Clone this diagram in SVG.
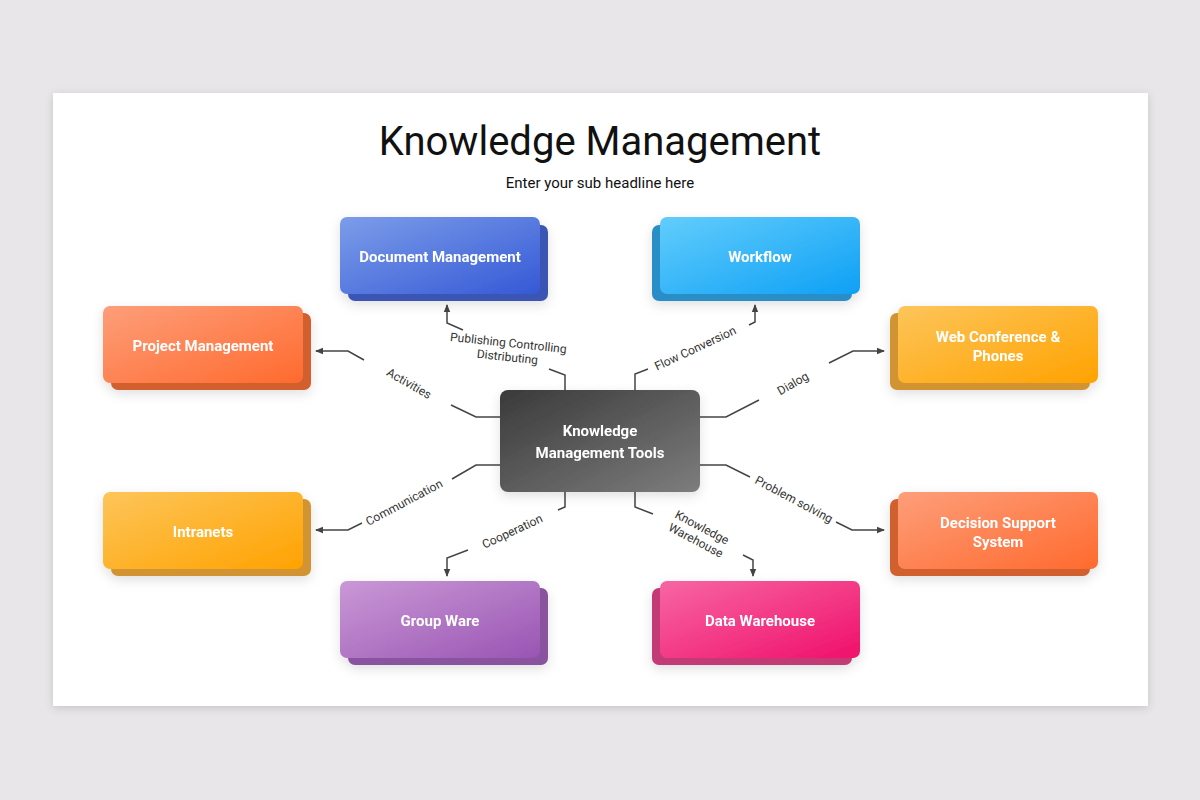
<svg xmlns="http://www.w3.org/2000/svg" width="1200" height="800" viewBox="0 0 1200 800">
<defs>
<linearGradient id="gBlue" x1="0" y1="0" x2="1" y2="1"><stop offset="0" stop-color="#7c9de9"/><stop offset="1" stop-color="#3559d6"/></linearGradient>
<linearGradient id="gCyan" x1="0" y1="0" x2="1" y2="1"><stop offset="0" stop-color="#62cdfc"/><stop offset="1" stop-color="#0ea0f5"/></linearGradient>
<linearGradient id="gOrange" x1="0" y1="0" x2="1" y2="1"><stop offset="0" stop-color="#fd9e7a"/><stop offset="1" stop-color="#ff6a2e"/></linearGradient>
<linearGradient id="gYellow" x1="0" y1="0" x2="1" y2="1"><stop offset="0" stop-color="#fdc55a"/><stop offset="1" stop-color="#ffa200"/></linearGradient>
<linearGradient id="gPurple" x1="0" y1="0" x2="1" y2="1"><stop offset="0" stop-color="#ca98d6"/><stop offset="1" stop-color="#9955b3"/></linearGradient>
<linearGradient id="gPink" x1="0" y1="0" x2="1" y2="1"><stop offset="0" stop-color="#f766a4"/><stop offset="1" stop-color="#f0106a"/></linearGradient>
<linearGradient id="gDark" x1="0" y1="0" x2="1" y2="1"><stop offset="0" stop-color="#3a3a3a"/><stop offset="1" stop-color="#7d7d7d"/></linearGradient>
<filter id="sh" x="-10%" y="-10%" width="120%" height="130%"><feDropShadow dx="0" dy="4" stdDeviation="6" flood-color="#000" flood-opacity="0.12"/></filter>
<filter id="card" x="-5%" y="-5%" width="110%" height="110%"><feDropShadow dx="0" dy="2" stdDeviation="4" flood-color="#000" flood-opacity="0.15"/></filter>
<marker id="ar" markerWidth="8" markerHeight="8" refX="7" refY="4" orient="auto" markerUnits="userSpaceOnUse"><path d="M0,0.8 L8,4 L0,7.2 Z" fill="#444"/></marker>
</defs>
<style>
.nt{font-family:Roboto,"Liberation Sans",sans-serif;font-weight:bold;font-size:15px;fill:#fff;text-anchor:middle}
.lb{font-family:Roboto,"Liberation Sans",sans-serif;font-size:12px;fill:#333;text-anchor:middle}
.cn{fill:none;stroke:#444;stroke-width:1.5}
</style>
<rect width="1200" height="800" fill="#e8e6e8"/>
<rect x="53" y="93" width="1095" height="613" fill="#fff" filter="url(#card)"/>
<text x="600" y="155" font-family="Roboto,'Liberation Sans',sans-serif" font-size="40" fill="#111" text-anchor="middle">Knowledge Management</text>
<text x="600" y="188" font-family="Roboto,'Liberation Sans',sans-serif" font-size="15" fill="#111" text-anchor="middle">Enter your sub headline here</text>

<g id="connectors">
<polyline class="cn" points="565,390 565,375 549,369"/>
<polyline class="cn" points="463,330 447,323 447,305" marker-end="url(#ar)"/>
<polyline class="cn" points="635,390 635,374 648,369"/>
<polyline class="cn" points="749,325 755,322 755,305" marker-end="url(#ar)"/>
<polyline class="cn" points="500,417 476,417 451,405"/>
<polyline class="cn" points="364,360 348,351 316,351" marker-end="url(#ar)"/>
<polyline class="cn" points="700,417 726,417 759,400"/>
<polyline class="cn" points="829,363 853,351 884,351" marker-end="url(#ar)"/>
<polyline class="cn" points="500,465 476,465 452,479"/>
<polyline class="cn" points="362,523 348,530 316,530" marker-end="url(#ar)"/>
<polyline class="cn" points="700,465 726,465 750,477"/>
<polyline class="cn" points="836,522 852,530 884,530" marker-end="url(#ar)"/>
<polyline class="cn" points="565,492 565,507 558,510"/>
<polyline class="cn" points="468,550 447,558 447,576" marker-end="url(#ar)"/>
<polyline class="cn" points="635,492 635,507 653,514"/>
<polyline class="cn" points="743,555 753,560 753,576" marker-end="url(#ar)"/>
<text class="lb" x="508" y="347" transform="rotate(6 508 347)">Publishing Controlling</text>
<text class="lb" x="507" y="361" transform="rotate(6 507 361)">Distributing</text>
<text class="lb" x="697" y="352" transform="rotate(-25 697 352)">Flow Conversion</text>
<text class="lb" x="407" y="387" transform="rotate(30 407 387)">Activities</text>
<text class="lb" x="795" y="387" transform="rotate(-30 795 387)">Dialog</text>
<text class="lb" x="406" y="506" transform="rotate(-28 406 506)">Communication</text>
<text class="lb" x="792" y="503" transform="rotate(28 792 503)">Problem solving</text>
<text class="lb" x="514" y="535" transform="rotate(-25 514 535)">Cooperation</text>
<text class="lb" x="700" y="531" transform="rotate(28 700 531)">Knowledge</text>
<text class="lb" x="694" y="544" transform="rotate(28 694 544)">Warehouse</text>
</g>

<g id="center" filter="url(#sh)">
<rect x="500" y="390" width="200" height="102" rx="8" fill="url(#gDark)"/>
<text class="nt" x="600" y="436" font-size="17">Knowledge</text>
<text class="nt" x="600" y="458" font-size="17">Management Tools</text>
</g>

<g id="doc" filter="url(#sh)">
<rect x="348" y="225" width="200" height="76" rx="7" fill="#3a55b5"/>
<rect x="340" y="217" width="200" height="77" rx="7" fill="url(#gBlue)"/>
<text class="nt" x="440" y="262">Document Management</text>
</g>
<g id="workflow" filter="url(#sh)">
<rect x="652" y="225" width="200" height="76" rx="7" fill="#2b8ec6"/>
<rect x="660" y="217" width="200" height="77" rx="7" fill="url(#gCyan)"/>
<text class="nt" x="760" y="262">Workflow</text>
</g>
<g id="project" filter="url(#sh)">
<rect x="111" y="313" width="200" height="77" rx="7" fill="#d2602f"/>
<rect x="103" y="306" width="200" height="77" rx="7" fill="url(#gOrange)"/>
<text class="nt" x="203" y="351">Project Management</text>
</g>
<g id="webconf" filter="url(#sh)">
<rect x="890" y="313" width="200" height="77" rx="7" fill="#d29430"/>
<rect x="898" y="306" width="200" height="77" rx="7" fill="url(#gYellow)"/>
<text class="nt" x="998" y="342">Web Conference &amp;</text>
<text class="nt" x="998" y="361">Phones</text>
</g>
<g id="intranets" filter="url(#sh)">
<rect x="111" y="499" width="200" height="77" rx="7" fill="#d29430"/>
<rect x="103" y="492" width="200" height="77" rx="7" fill="url(#gYellow)"/>
<text class="nt" x="203" y="537">Intranets</text>
</g>
<g id="decision" filter="url(#sh)">
<rect x="890" y="499" width="200" height="77" rx="7" fill="#d2602f"/>
<rect x="898" y="492" width="200" height="77" rx="7" fill="url(#gOrange)"/>
<text class="nt" x="998" y="528">Decision Support</text>
<text class="nt" x="998" y="547">System</text>
</g>
<g id="groupware" filter="url(#sh)">
<rect x="348" y="588" width="200" height="77" rx="7" fill="#8a52a0"/>
<rect x="340" y="581" width="200" height="77" rx="7" fill="url(#gPurple)"/>
<text class="nt" x="440" y="626">Group Ware</text>
</g>
<g id="datawarehouse" filter="url(#sh)">
<rect x="652" y="588" width="200" height="77" rx="7" fill="#c23a76"/>
<rect x="660" y="581" width="200" height="77" rx="7" fill="url(#gPink)"/>
<text class="nt" x="760" y="626">Data Warehouse</text>
</g>
</svg>
